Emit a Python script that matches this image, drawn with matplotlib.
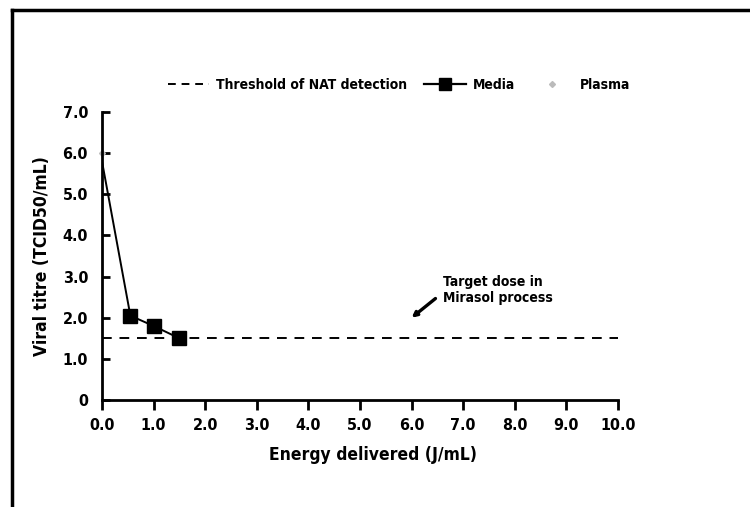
import matplotlib
matplotlib.use('Agg')
import matplotlib.pyplot as plt
from matplotlib.lines import Line2D

plt.rcParams['font.family'] = ['Liberation Sans Narrow', 'DejaVu Sans']
plt.rcParams['font.stretch'] = 'condensed'
plt.rcParams['font.weight'] = 'bold'
plt.rcParams['axes.labelweight'] = 'bold'

# data
energy_media = [0.0, 0.55, 1.0, 1.5]
titre_media = [5.8, 2.05, 1.8, 1.5]
energy_plasma = [0.0]
titre_plasma = [6.0]
threshold = 1.5
x_ticks = [0, 1, 2, 3, 4, 5, 6, 7, 8, 9, 10]
x_labels = ['0.0', '1.0', '2.0', '3.0', '4.0', '5.0', '6.0', '7.0', '8.0', '9.0', '10.0']
y_ticks = [0, 1, 2, 3, 4, 5, 6, 7]
y_labels = ['0', '1.0', '2.0', '3.0', '4.0', '5.0', '6.0', '7.0']
target_dose = (6.0, 2.0)

fig = plt.figure(figsize=(7.5, 5.07), dpi=100)
ax = fig.add_axes([0.136, 0.211, 0.688, 0.568])

ax.plot([0, 10], [threshold, threshold], '--', color='black', lw=1.4,
        dashes=(5, 4))
ax.plot(energy_media, titre_media, color='black', lw=1.4)
ax.plot(energy_media[1:], titre_media[1:], 's', color='black', ms=10)
ax.plot(energy_plasma, titre_plasma, 'D', color='#bbbbbb', ms=3, clip_on=False)

ax.set_xlim(0, 10)
ax.set_ylim(0, 7)
ax.set_xticks(x_ticks)
ax.set_xticklabels(x_labels, fontsize=11.5)
ax.set_yticks(y_ticks)
ax.set_yticklabels(y_labels, fontsize=11.5)
ax.tick_params(axis='y', direction='in', length=6, width=2, pad=10)
ax.tick_params(axis='x', direction='out', length=7, width=2, pad=6)
for s in ['top', 'right']:
    ax.spines[s].set_visible(False)
for s in ['left', 'bottom']:
    ax.spines[s].set_linewidth(2)

ax.set_xlabel('Energy delivered (J/mL)', fontsize=12.5)
ax.set_ylabel('Viral titre (TCID50/mL)', fontsize=12.5)
ax.xaxis.set_label_coords(0.525, -0.16)
ax.yaxis.set_label_coords(-0.098, 0.5)

ax.annotate('Target dose in\nMirasol process', xy=target_dose, xytext=(6.6, 2.68),
            fontsize=10, va='center', ha='left',
            arrowprops=dict(arrowstyle='-|>', color='black', lw=2.4,
                            mutation_scale=7, shrinkA=4, shrinkB=0,
                            relpos=(0, 0.4)))

handles = [
    Line2D([], [], ls='--', color='black', lw=1.4, dashes=(4, 3)),
    Line2D([], [], color='black', lw=1.6, marker='s', ms=9),
    Line2D([], [], ls='', marker='D', color='#bbbbbb', ms=3),
]
labels = ['Threshold of NAT detection', 'Media', 'Plasma']
fig.legend(handles, labels, loc='center', bbox_to_anchor=(0.532, 0.833), ncol=3,
           frameon=False, fontsize=10, handlelength=3.0, columnspacing=1.2,
           handletextpad=0.5)

# page border (top and left edge of the scanned frame)
fig.add_artist(Line2D([0.016, 1.0], [0.98, 0.98], color='black', lw=2.5,
                      transform=fig.transFigure))
fig.add_artist(Line2D([0.016, 0.016], [0.0, 0.98], color='black', lw=2.5,
                      transform=fig.transFigure))

fig.savefig('out.png', dpi=100)
